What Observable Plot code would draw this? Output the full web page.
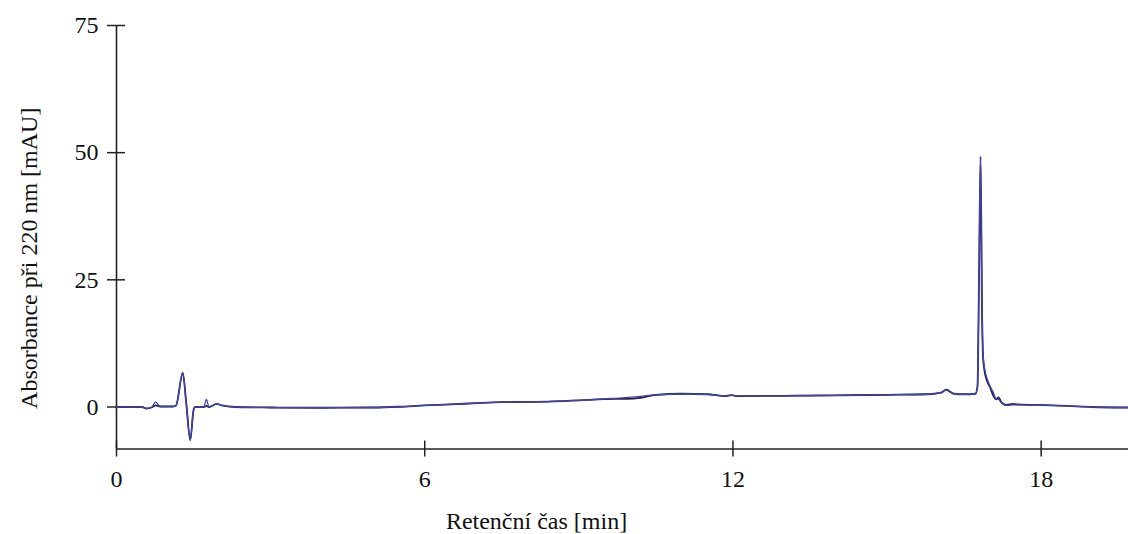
<!DOCTYPE html>
<html>
<head>
<meta charset="utf-8">
<script src="https://cdn.jsdelivr.net/npm/d3@7"></script>
<script src="https://cdn.jsdelivr.net/npm/@observablehq/plot@0.6"></script>
<style>
  html, body { margin: 0; padding: 0; background: #fff; }
  #chart svg { display: block; }
  #chart svg text { font-family: "Liberation Serif", "Tinos", "DejaVu Serif", serif !important; font-size: 24px !important; fill: #111; }
</style>
</head>
<body>
<div id="chart"></div>
<script>
// Retention time [min]
const time = [0, 0.5, 0.58, 0.68, 0.76, 0.85, 1.1, 1.16, 1.29, 1.36, 1.435, 1.5, 1.53, 1.7, 1.75, 1.8, 1.95, 2.05, 2.3,
  3.0, 4.0, 5.0, 5.5, 6.0, 6.5, 7.0, 7.5, 8.0, 8.5, 9.0, 9.5, 9.9, 10.2, 10.5, 11.0, 11.5, 11.85, 11.98, 12.05,
  13.0, 14.0, 15.0, 15.8, 16.05, 16.15, 16.3, 16.5, 16.72, 16.76, 16.79, 16.82, 16.85, 16.87, 16.91, 16.96, 17.0,
  17.07, 17.12, 17.17, 17.23, 17.33, 17.45, 17.53, 17.9, 18.5, 19.0, 19.7];
// Absorbance [mAU], dark trace
const darkTrace = [0, 0, -0.3, -0.1, 0.3, 0.1, 0.1, 0.3, 6.7, 0.5, -6.5, -0.6, 0, 0, 0.2, 0, 0.6, 0.3, 0,
  -0.1, -0.15, -0.1, 0.05, 0.3, 0.5, 0.75, 0.95, 1.0, 1.1, 1.3, 1.55, 1.6, 1.8, 2.4, 2.6, 2.5, 2.15, 2.35, 2.15,
  2.2, 2.3, 2.4, 2.5, 2.8, 3.4, 2.6, 2.5, 2.6, 4, 25, 49.2, 18, 9.5, 6.4, 4.8, 4.0,
  2.2, 1.5, 1.9, 0.85, 0.4, 0.6, 0.5, 0.4, 0.2, 0.0, -0.1];
// Absorbance [mAU], blue trace
const blueTrace = [0, 0, -0.3, -0.1, 1.0, 0.1, 0.1, 0.3, 6.7, 0.5, -6.5, -0.6, 0, 0, 1.5, 0, 0.6, 0.3, 0,
  -0.1, -0.15, -0.1, 0.05, 0.3, 0.5, 0.75, 0.95, 1.0, 1.1, 1.3, 1.6, 1.85, 2.1, 2.4, 2.55, 2.5, 2.2, 2.35, 2.2,
  2.2, 2.3, 2.4, 2.5, 2.8, 3.3, 2.6, 2.5, 2.6, 4, 25, 49.2, 18, 10, 7, 5.2, 4.2,
  2.8, 1.6, 1.5, 0.8, 0.3, 0.4, 0.4, 0.4, 0.2, 0.0, -0.1];

const xTicks = [0, 6, 12, 18];
const yTicks = [0, 25, 50, 75];
const xDomain = [0, 19.7];
const yDomain = [-8.26, 75];
const xLabel = "Retenční čas [min]";
const yLabel = "Absorbance při 220 nm [mAU]";

const darkRows = time.map((t, i) => ({t, v: darkTrace[i]}));
const blueRows = time.map((t, i) => ({t, v: blueTrace[i]}));

const axisColor = "#222";
const serif = "'Liberation Serif', 'DejaVu Serif', serif";

const chart = Plot.plot({
  width: 1128,
  height: 534,
  marginLeft: 116,
  marginRight: 0,
  marginTop: 25,
  marginBottom: 85.5,
  style: {fontFamily: serif, fontSize: "24px", color: "#111", background: "#fff"},
  x: {domain: xDomain},
  y: {domain: yDomain},
  marks: [
    Plot.axisX(xTicks, {tickSize: 16, dy: -8, tickFormat: () => "", label: null, stroke: axisColor, strokeWidth: 1.5}),
    Plot.axisX(xTicks, {tickSize: 0, tickPadding: 21, label: null, fontFamily: serif, fontSize: 24}),
    Plot.axisY(yTicks, {tickSize: 18, dx: 9, tickFormat: () => "", label: null, stroke: axisColor, strokeWidth: 1.5}),
    Plot.axisY(yTicks, {tickSize: 0, tickPadding: 18, label: null, fontFamily: serif, fontSize: 24}),
    Plot.ruleY([yDomain[0]], {stroke: axisColor, strokeWidth: 1.6}),
    Plot.ruleX([0], {y1: yDomain[0], y2: yDomain[1], stroke: axisColor, strokeWidth: 1.6}),
    Plot.line(darkRows, {x: "t", y: "v", stroke: "#1e1e46", strokeWidth: 1.8, curve: "monotone-x"}),
    Plot.line(blueRows, {x: "t", y: "v", stroke: "#4444b0", strokeWidth: 1.3, curve: "monotone-x"}),
    Plot.text([xLabel], {frameAnchor: "bottom", dx: -86, dy: 72.5, lineAnchor: "middle", textAnchor: "middle", fontSize: 24, fontFamily: serif}),
    Plot.text([yLabel], {frameAnchor: "left", dx: -87, dy: 21, rotate: -90, lineAnchor: "middle", textAnchor: "middle", fontSize: 24, fontFamily: serif})
  ]
});
document.getElementById("chart").appendChild(chart);
</script>
</body>
</html>
